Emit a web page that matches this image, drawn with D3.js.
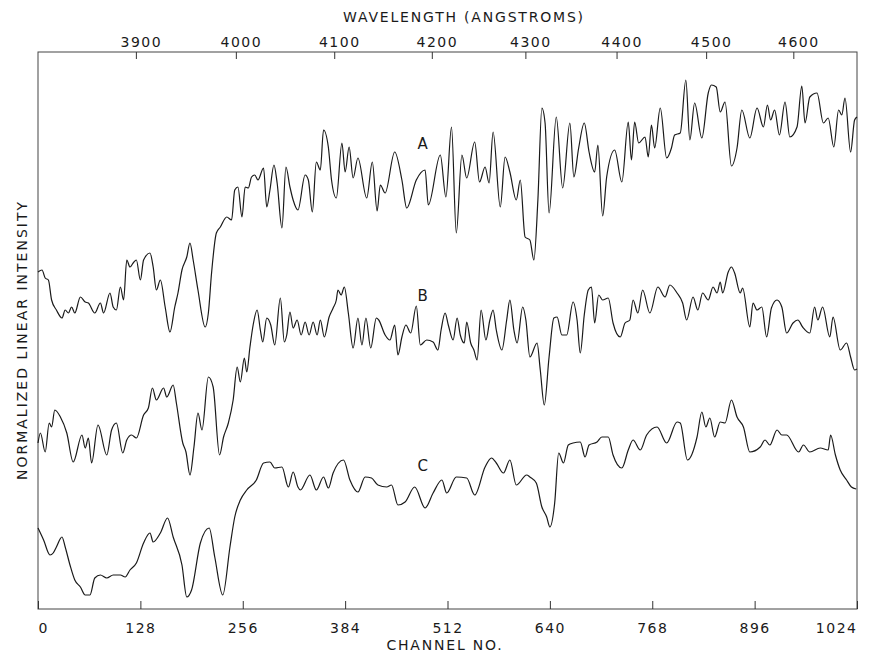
<!DOCTYPE html>
<html><head><meta charset="utf-8">
<script src="https://cdn.jsdelivr.net/npm/d3@7"></script>
<style>
html,body{margin:0;padding:0;background:#fff;}
svg text{font-family:"DejaVu Sans",sans-serif;fill:#1a1a1a;}
</style></head>
<body><svg id="chart" width="879" height="653"></svg>
<script>
// Bottom axis: channel ticks
const channelTicks = [0,128,256,384,512,640,768,896,1024];
// Top axis: wavelength ticks and the channel at which each falls
const wavelengthTicks = [3900,4000,4100,4200,4300,4400,4500,4600];
const wavelengthTickChannels = [123,248,371,493,610,724,836,945];

const seriesLabels = ["A","B","C"];
const labelPositions = [[481,4.66],[481,3.14],[481,1.44]];

// Spectrum A: [channel, normalized intensity]
const spectrumA = [[0,3.37],[5,3.39],[9,3.31],[13,3.29],[17,3.09],[23,2.99],[30,2.91],[34,2.99],[38,2.96],[42,3.02],[46,2.96],[53,3.12],[59,3.07],[63,3.06],[71,2.96],[78,3.06],[82,2.96],[90,3.16],[94,3.02],[98,2.99],[103,3.22],[107,3.09],[111,3.49],[115,3.42],[119,3.46],[123,3.49],[128,3.29],[132,3.49],[140,3.56],[144,3.42],[148,3.19],[153,3.29],[159,3.02],[165,2.77],[171,3.02],[175,3.16],[180,3.39],[186,3.52],[190,3.66],[194,3.49],[200,3.19],[209,2.82],[213,2.96],[217,3.36],[223,3.76],[228,3.82],[236,3.92],[242,3.89],[246,4.19],[250,4.22],[255,3.92],[259,4.22],[263,4.21],[267,4.32],[271,4.34],[275,4.29],[282,4.41],[286,4.02],[290,4.19],[295,4.44],[299,4.26],[305,3.81],[310,4.42],[315,4.22],[319,4.09],[325,3.99],[334,4.34],[338,4.29],[343,3.97],[348,4.47],[353,4.39],[357,4.79],[363,4.62],[367,4.29],[373,4.11],[380,4.66],[384,4.37],[389,4.62],[394,4.31],[400,4.51],[411,4.11],[418,4.47],[424,3.98],[428,4.24],[434,4.16],[446,4.57],[455,4.29],[461,4.01],[473,4.29],[484,4.39],[488,4.04],[503,4.54],[510,4.12],[517,4.82],[523,3.76],[530,4.54],[536,4.31],[546,4.67],[552,4.27],[559,4.42],[564,4.26],[569,4.77],[578,4.02],[584,4.52],[590,4.37],[598,4.09],[603,4.29],[609,3.72],[615,3.69],[620,3.49],[625,4.09],[630,5.01],[634,4.86],[639,3.96],[648,4.92],[656,4.21],[665,4.86],[670,4.32],[676,4.61],[683,4.86],[689,4.57],[696,4.37],[700,4.64],[706,3.93],[711,4.32],[721,4.59],[730,4.27],[738,4.87],[742,4.49],[746,4.87],[751,4.66],[759,4.72],[763,4.52],[767,4.84],[771,4.61],[778,5.01],[786,4.51],[792,4.61],[796,4.74],[803,4.76],[810,5.29],[815,4.69],[821,5.06],[830,4.71],[838,5.16],[842,5.24],[848,5.22],[853,4.97],[859,5.07],[867,4.43],[874,4.61],[880,4.99],[890,4.71],[899,5.01],[907,4.82],[912,5.04],[916,4.89],[921,4.99],[927,4.74],[934,5.07],[940,4.72],[949,4.82],[955,5.23],[959,4.86],[965,5.12],[974,5.16],[982,4.86],[988,4.91],[995,4.62],[1001,4.99],[1005,4.94],[1009,5.11],[1016,4.57],[1021,4.89],[1024,4.92]];

// Spectrum B
const spectrumB = [[0,1.66],[3,1.76],[9,1.57],[14,1.86],[17,1.82],[21,1.99],[28,1.92],[36,1.76],[44,1.47],[55,1.74],[59,1.61],[63,1.71],[67,1.46],[75,1.84],[86,1.54],[92,1.79],[98,1.86],[106,1.56],[111,1.69],[117,1.74],[123,1.71],[132,1.94],[138,2.01],[143,2.21],[148,2.09],[157,2.21],[161,2.12],[169,2.24],[173,2.06],[181,1.66],[185,1.57],[190,1.34],[195,1.62],[200,1.96],[205,1.79],[213,2.32],[219,2.22],[227,1.54],[232,1.72],[238,1.86],[244,2.09],[249,2.42],[253,2.27],[258,2.51],[261,2.37],[265,2.62],[269,2.84],[274,2.99],[278,2.79],[281,2.67],[286,2.91],[291,2.84],[296,2.64],[303,3.11],[308,2.67],[311,2.74],[315,2.97],[319,2.81],[324,2.89],[329,2.74],[334,2.87],[339,2.74],[344,2.87],[349,2.74],[353,2.89],[358,2.72],[364,2.92],[369,3.01],[373,3.09],[375,3.19],[379,3.14],[383,3.22],[388,2.96],[394,2.61],[400,2.91],[405,2.64],[410,2.91],[416,2.61],[423,2.91],[426,2.89],[434,2.74],[440,2.69],[446,2.84],[450,2.54],[455,2.72],[460,2.84],[466,2.76],[473,3.03],[478,2.64],[486,2.69],[494,2.67],[500,2.59],[504,2.79],[509,2.96],[513,2.84],[519,2.69],[524,2.91],[528,2.74],[533,2.66],[536,2.87],[541,2.66],[545,2.59],[549,2.49],[554,2.99],[560,2.69],[565,2.89],[569,2.99],[573,2.79],[580,2.59],[586,2.89],[590,3.09],[595,2.79],[599,2.66],[606,3.02],[610,2.89],[615,2.52],[624,2.66],[628,2.39],[633,2.04],[639,2.52],[645,2.91],[649,2.92],[655,2.74],[661,2.74],[669,3.07],[674,2.89],[678,2.56],[683,2.94],[688,3.19],[692,3.22],[696,2.86],[701,3.14],[706,3.09],[713,3.11],[719,2.86],[728,2.72],[734,2.86],[740,2.89],[744,3.09],[750,2.96],[756,3.19],[765,2.96],[775,3.22],[784,3.12],[790,3.24],[799,3.16],[806,3.06],[811,2.89],[819,3.12],[825,2.99],[831,3.16],[838,3.09],[844,3.22],[849,3.16],[853,3.27],[856,3.16],[863,3.37],[867,3.42],[871,3.36],[878,3.16],[881,3.21],[890,2.82],[894,3.06],[899,2.99],[905,3.02],[911,2.72],[917,3.01],[924,3.09],[930,3.02],[936,2.76],[944,2.86],[950,2.89],[956,2.82],[965,2.76],[971,3.02],[975,2.89],[981,3.02],[990,2.72],[994,2.92],[1003,2.59],[1011,2.66],[1016,2.52],[1021,2.39],[1024,2.40]];

// Spectrum C
const spectrumC = [[0,0.81],[7,0.69],[15,0.54],[19,0.56],[23,0.62],[30,0.72],[34,0.62],[40,0.44],[46,0.29],[53,0.22],[59,0.14],[65,0.14],[71,0.31],[78,0.34],[86,0.31],[94,0.34],[103,0.34],[109,0.32],[115,0.39],[123,0.46],[132,0.66],[140,0.76],[144,0.67],[153,0.76],[162,0.91],[169,0.72],[180,0.44],[186,0.12],[192,0.19],[203,0.66],[214,0.81],[221,0.52],[231,0.14],[240,0.62],[246,0.92],[253,1.09],[261,1.19],[273,1.29],[282,1.46],[290,1.47],[296,1.41],[305,1.42],[313,1.22],[319,1.37],[325,1.22],[328,1.19],[340,1.34],[348,1.19],[357,1.32],[363,1.21],[369,1.36],[382,1.49],[390,1.29],[400,1.17],[409,1.32],[417,1.31],[425,1.24],[436,1.22],[442,1.24],[450,1.04],[459,1.07],[471,1.22],[484,1.01],[494,1.16],[505,1.29],[511,1.16],[523,1.32],[536,1.31],[546,1.14],[559,1.42],[567,1.51],[573,1.46],[582,1.36],[590,1.49],[598,1.24],[611,1.34],[615,1.32],[623,1.26],[630,1.02],[636,0.92],[640,0.82],[646,1.06],[651,1.56],[657,1.46],[663,1.64],[669,1.66],[678,1.67],[684,1.52],[689,1.64],[699,1.67],[705,1.72],[713,1.72],[719,1.54],[730,1.41],[738,1.59],[744,1.69],[753,1.59],[761,1.74],[774,1.82],[786,1.66],[799,1.87],[803,1.86],[812,1.49],[824,1.72],[830,1.97],[835,1.82],[840,1.91],[846,1.72],[853,1.87],[859,1.86],[867,2.09],[874,1.92],[882,1.82],[890,1.57],[903,1.62],[909,1.69],[915,1.64],[924,1.79],[930,1.74],[936,1.74],[951,1.57],[957,1.64],[965,1.57],[978,1.61],[988,1.59],[991,1.74],[997,1.54],[1003,1.39],[1011,1.29],[1017,1.22],[1023,1.20]];

const svg = d3.select("#chart");
const x = d3.scaleLinear().domain([0,1024]).range([38,857]);
const y = d3.scaleLinear().domain([0,5.57]).range([609,52]);

// frame
svg.append("rect").attr("x",x(0)).attr("y",y(5.57)).attr("width",x(1024)-x(0)).attr("height",y(0)-y(5.57))
  .attr("fill","none").attr("stroke","#444").attr("stroke-width",1);

// bottom axis (ticks inward)
const bottomAxis = svg.append("g").attr("transform",`translate(0,${y(0)})`)
  .call(d3.axisBottom(x).tickValues(channelTicks).tickSizeInner(-8).tickSizeOuter(0).tickPadding(14).tickFormat(d3.format("d")));
bottomAxis.select(".domain").remove();
bottomAxis.selectAll("line").attr("stroke","#333");
bottomAxis.selectAll("text").attr("font-size","14px").attr("letter-spacing","1.5px").attr("fill","#1a1a1a")
  .attr("font-family","DejaVu Sans, sans-serif")
  .attr("text-anchor",(d,i)=> i===0 ? "start" : (i===channelTicks.length-1 ? "end" : "middle"));

// top axis (wavelength)
const topAxis = svg.append("g").attr("transform",`translate(0,${y(5.57)})`);
topAxis.selectAll("line").data(wavelengthTicks).join("line")
  .attr("x1",(d,i)=>x(wavelengthTickChannels[i])).attr("x2",(d,i)=>x(wavelengthTickChannels[i]))
  .attr("y1",0).attr("y2",7).attr("stroke","#333");
topAxis.selectAll("text").data(wavelengthTicks).join("text")
  .attr("x",(d,i)=>x(wavelengthTickChannels[i])+5).attr("y",-5)
  .attr("text-anchor","middle").attr("font-size","14px").attr("letter-spacing","1.5px").text(d=>d);

// titles
svg.append("text").attr("x",464).attr("y",22).attr("text-anchor","middle").attr("font-size","14px")
  .attr("letter-spacing","1.8px").text("WAVELENGTH (ANGSTROMS)");
svg.append("text").attr("x",445).attr("y",650).attr("text-anchor","middle").attr("font-size","14px")
  .attr("letter-spacing","1.8px").text("CHANNEL NO.");
svg.append("text").attr("transform","translate(27,340) rotate(-90)").attr("text-anchor","middle").attr("font-size","14px")
  .attr("letter-spacing","2px").text("NORMALIZED LINEAR INTENSITY");

// spectra
const line = d3.line().x(d=>x(d[0])).y(d=>y(d[1])).curve(d3.curveMonotoneX);
[spectrumA, spectrumB, spectrumC].forEach(s=>{
  svg.append("path").datum(s).attr("d",line).attr("fill","none").attr("stroke","#1a1a1a")
    .attr("stroke-width",1.2).attr("stroke-linejoin","round");
});

// series labels
svg.selectAll("text.lbl").data(seriesLabels).join("text").attr("class","lbl")
  .attr("x",(d,i)=>x(labelPositions[i][0])).attr("y",(d,i)=>y(labelPositions[i][1])+6)
  .attr("text-anchor","middle").attr("font-size","15px").text(d=>d);
</script></body></html>
